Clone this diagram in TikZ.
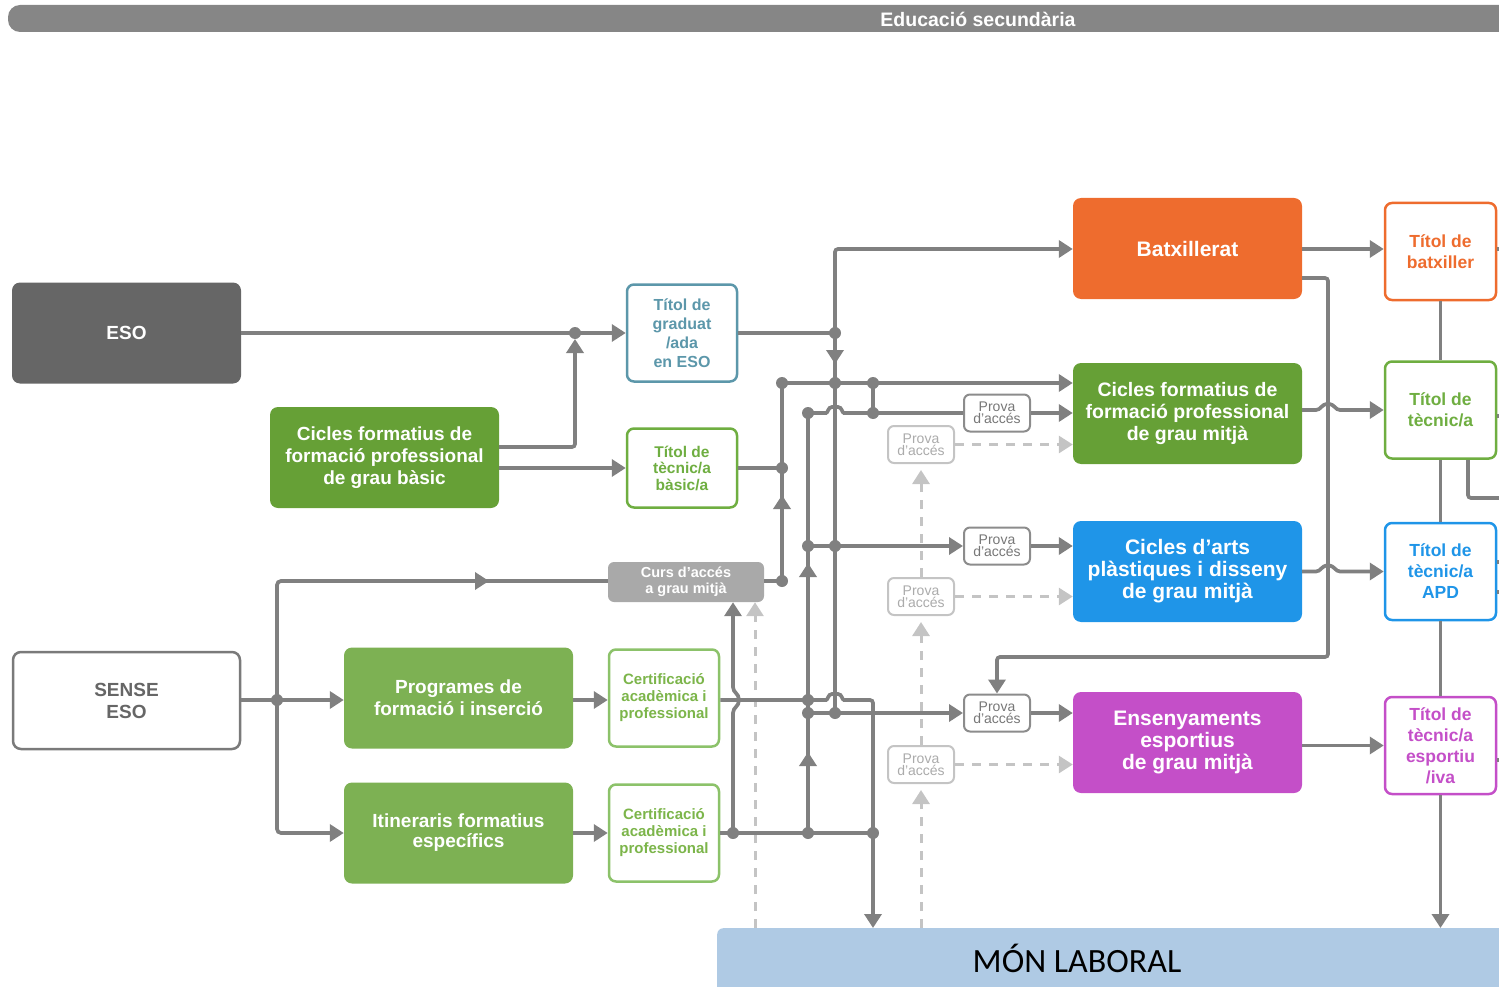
\documentclass[tikz,border=0pt]{standalone}
\usepackage{fontspec}
\setmainfont{Liberation Sans}
\newfontfamily\calib{Carlito}
\usetikzlibrary{arrows.meta,calc}
\definecolor{lg}{HTML}{808080}
\definecolor{dg}{HTML}{C4C4C4}
\definecolor{barg}{HTML}{868686}
\definecolor{esog}{HTML}{666666}
\definecolor{fpg}{HTML}{66A036}
\definecolor{pg}{HTML}{7DB153}
\definecolor{certg}{HTML}{8CC26A}
\definecolor{certt}{HTML}{7CB54A}
\definecolor{tgg}{HTML}{5C97AA}
\definecolor{tecg}{HTML}{6FAE41}
\definecolor{orng}{HTML}{EE6C2E}
\definecolor{blu}{HTML}{1F95E8}
\definecolor{mag}{HTML}{C44FC8}
\definecolor{cursg}{HTML}{A9A9A9}
\definecolor{provd}{HTML}{8C8C8C}
\definecolor{provdt}{HTML}{777777}
\definecolor{provl}{HTML}{C4C4C4}
\definecolor{provlt}{HTML}{ABABAB}
\definecolor{monb}{HTML}{AFCAE4}
\definecolor{sensg}{HTML}{7A7A7A}
\definecolor{senst}{HTML}{666666}
\begin{document}
\begin{tikzpicture}[x=1pt,y=-1pt,
  ln/.style={draw=lg, line width=3.7pt},
  arr/.style={ln, -{Triangle[width=17pt,length=14pt]}},
  dsh/.style={draw=dg, line width=3pt, dash pattern=on 9pt off 8pt},
  darr/.style={dsh, -{Triangle[width=17pt,length=14pt]}},
  bigbox/.style={rounded corners=8pt, minimum width=229pt, minimum height=101pt, inner sep=0pt, align=center, text=white, font=\bfseries\fontsize{19}{22}\selectfont},
  tbox/.style={draw, line width=2.5pt, fill=white, rounded corners=7pt, minimum width=110pt, minimum height=97pt, inner sep=0pt, align=center, font=\bfseries\fontsize{16}{19}\selectfont},
  rtbox/.style={draw, line width=2.5pt, fill=white, rounded corners=7pt, minimum width=111pt, minimum height=97pt, inner sep=0pt, align=center, font=\bfseries\fontsize{17.5}{21}\selectfont},
  provbox/.style={draw=provd, text=provdt, line width=2pt, fill=white, rounded corners=6pt, minimum width=66pt, minimum height=37pt, inner sep=0pt, align=center, font=\fontsize{14}{12}\selectfont},
  lprovbox/.style={provbox, draw=provl, text=provlt},
  dot/.style={fill=lg}
]
\useasboundingbox (0,0) rectangle (1499,987);

% top bar
\fill[barg, rounded corners=12pt] (8,5) rectangle (1540,32);
\node[text=white, font=\bfseries\fontsize{19.5}{20}\selectfont] (toptxt) at (978,19) {Educació secundària};

% bottom bar
\node[fill=monb, rounded corners=6pt, minimum width=820pt, minimum height=70pt, anchor=north west, inner sep=0pt] (mon) at (717,928) {};
\node[font=\calib\fontsize{34}{36}\selectfont, text=black] (montxt) at (1077,958) {MÓN LABORAL};

% left boxes
\node[bigbox, fill=esog] (eso) at (126.5,333) {ESO};
\node[bigbox, fill=fpg] (bas) at (384.5,457.5) {Cicles formatius de\\formació professional\\de grau bàsic};
\node[bigbox, fill=white, draw=sensg, line width=2.5pt, text=senst, minimum width=227pt, minimum height=97pt] (sense) at (126.5,700.5) {SENSE\\ESO};
\node[bigbox, fill=pg] (prog) at (458.5,698) {Programes de\\formació i inserció};
\node[bigbox, fill=pg, font=\bfseries\fontsize{19}{20}\selectfont] (itin) at (458.5,833) {Itineraris formatius\\específics};

% middle boxes
\node[tbox, draw=tgg, text=tgg] (tgrad) at (682,333) {Títol de\\graduat\\/ada\\en ESO};
\node[tbox, draw=tecg, text=tecg, minimum height=79pt, font=\bfseries\fontsize{15.5}{16.5}\selectfont] (tbas) at (682,468) {Títol de\\tècnic/a\\bàsic/a};
\node[fill=cursg, rounded corners=6pt, minimum width=156pt, minimum height=40pt, inner sep=0pt, align=center, text=white, font=\bfseries\fontsize{14.5}{16}\selectfont] (curs) at (686,582) {Curs d'accés\\a grau mitjà};
\node[tbox, draw=certg, text=certt, font=\bfseries\fontsize{15}{17}\selectfont] (cert1) at (664,698) {Certificació\\acadèmica i\\professional};
\node[tbox, draw=certg, text=certt, font=\bfseries\fontsize{15}{17}\selectfont] (cert2) at (664,833) {Certificació\\acadèmica i\\professional};

% right big boxes
\node[bigbox, fill=orng, font=\bfseries\fontsize{21}{23}\selectfont] (batx) at (1187.5,248.5) {Batxillerat};
\node[bigbox, fill=fpg, font=\bfseries\fontsize{19.5}{22}\selectfont] (cfgm) at (1187.5,413.5) {Cicles formatius de\\formació professional\\de grau mitjà};
\node[bigbox, fill=blu, font=\bfseries\fontsize{21}{22}\selectfont] (arts) at (1187.5,571.5) {Cicles d'arts\\plàstiques i disseny\\de grau mitjà};
\node[bigbox, fill=mag, font=\bfseries\fontsize{21}{22}\selectfont] (esp) at (1187.5,742.5) {Ensenyaments\\esportius\\de grau mitjà};

% right titles
\node[rtbox, draw=orng, text=orng] (tbatx) at (1440.5,251.5) {Títol de\\batxiller};
\node[rtbox, draw=tecg, text=tecg] (ttec) at (1440.5,410) {Títol de\\tècnic/a};
\node[rtbox, draw=blu, text=blu] (tapd) at (1440.5,571.5) {Títol de\\tècnic/a\\APD};
\node[rtbox, draw=mag, text=mag] (tesp) at (1440.5,745.5) {Títol de\\tècnic/a\\esportiu\\/iva};

% prova boxes
\node[provbox] (p1) at (997,413) {Prova\\d'accés};
\node[provbox] (p2) at (997,546) {Prova\\d'accés};
\node[provbox] (p3) at (997,713) {Prova\\d'accés};
\node[lprovbox] (l1) at (921,444.5) {Prova\\d'accés};
\node[lprovbox] (l2) at (921,596.5) {Prova\\d'accés};
\node[lprovbox] (l3) at (921,764.5) {Prova\\d'accés};

% junctions
\coordinate (jA) at (575,333);
\coordinate (jA2) at (575,339);
\coordinate (jB) at (835,333);
\coordinate (jC) at (835,249);
\coordinate (jD) at (782,383);
\coordinate (jE) at (835,383);
\coordinate (jF) at (873,383);
\coordinate (jG) at (808,413);
\coordinate (jH) at (873,413);
\coordinate (jI) at (782,468);
\coordinate (jJ) at (782,581);
\coordinate (jK) at (808,546);
\coordinate (jL) at (835,546);
\coordinate (jM) at (808,700);
\coordinate (jN) at (873,700);
\coordinate (jO) at (808,713);
\coordinate (jP) at (835,713);
\coordinate (jQ) at (733,833);
\coordinate (jR) at (808,833);
\coordinate (jS) at (873,833);
\coordinate (jT) at (277,700);
\coordinate (jU) at (277,581);
\coordinate (jV) at (277,833);
\coordinate (jW) at (1328,278);
\coordinate (jX) at (1328,657);

% dashed connectors
\draw[darr] (mon.north -| 755,0) -- (curs.south -| 755,0);
\draw[darr, shorten >=6pt] (mon.north -| l3) -- (l3.south);
\draw[darr, shorten >=6pt] (l3.north) -- (l2.south);
\draw[darr, shorten >=6pt] (l2.north) -- (l1.south);
\draw[darr] (l1.east) -- (cfgm.west |- l1);
\draw[darr] (l2.east) -- (arts.west |- l2);
\draw[darr] (l3.east) -- (esp.west |- l3);

% ESO side
\draw[arr] (eso.east) -- (tgrad.west);
\draw[arr, rounded corners=3pt] (bas.east |- 0,447) -| (jA2);
\draw[arr] (bas.east |- tbas) -- (tbas.west);
\draw[ln] (tgrad.east) -- (jB);
\draw[arr, rounded corners=3pt] (jP) -- (jC) -- (batx.west |- jC);
\draw[arr] (835,343) -- (835,364);

% curs / x=782
\draw[ln] (tbas.east) -- (jI);
\draw[arr, rounded corners=3pt] (curs.east |- jJ) -- (jJ) -- (jD) -- (cfgm.west |- jD);
\draw[arr] (782,514) -- (782,495);

% x=808 and y=413
\draw[ln, rounded corners=3pt] (jR) -- (jG) -- (823,413) .. controls (828,413) and (828,407) .. (835,407) .. controls (842,407) and (842,413) .. (847,413) -- (p1.west |- jG);
\draw[arr] (p1.east) -- (cfgm.west |- p1);
\draw[ln] (jF) -- (jH);
\draw[arr] (808,582) -- (808,563);
\draw[arr] (808,771) -- (808,752);

% y=546
\draw[arr] (jK) -- (p2.west);
\draw[arr] (p2.east) -- (arts.west |- p2);

% cert1 line y=700
\draw[arr, rounded corners=3pt] (cert1.east |- jM) -- (jM) -- (823,700) .. controls (828,700) and (828,694) .. (835,694) .. controls (842,694) and (842,700) .. (847,700) -- (jN) -- (mon.north -| jN);

% y=713
\draw[arr] (jO) -- (p3.west);
\draw[arr] (p3.east) -- (esp.west |- p3);

% cert2 line y=833 and x=733
\draw[ln] (cert2.east) -- (jS);
\draw[arr] (jQ) -- (733,713) .. controls (733,707) and (739,707) .. (739,700) .. controls (739,693) and (733,693) .. (733,687) -- (curs.south -| jQ);

% SENSE side
\draw[ln] (sense.east |- jT) -- (jT);
\draw[arr] (jT) -- (prog.west |- jT);
\draw[ln, rounded corners=4pt] (curs.west |- jU) -| (jT);
\draw[arr, rounded corners=4pt] (jT) |- (itin.west);
\draw[arr] (468,581) -- (489,581);
\draw[arr] (prog.east |- jT) -- (cert1.west |- jT);
\draw[arr] (itin.east) -- (cert2.west);

% right side
\draw[arr] (batx.east |- 0,249) -- (tbatx.west |- 0,249);
\draw[arr, rounded corners=3pt] (batx.east |- jW) -- (jW) -- (jX) -- (jX -| p3) -- (p3.north);
\draw[arr] (cfgm.east |- ttec) -- (1316,410) .. controls (1321,410) and (1321,404) .. (1328,404) .. controls (1335,404) and (1335,410) .. (1340,410) -- (ttec.west);
\draw[arr] (arts.east) -- (1316,571.5) .. controls (1321,571.5) and (1321,565.5) .. (1328,565.5) .. controls (1335,565.5) and (1335,571.5) .. (1340,571.5) -- (tapd.west);
\draw[arr] (esp.east |- tesp) -- (tesp.west);
\draw[ln] (tbatx.south) -- (ttec.north);
\draw[ln] (ttec.south) -- (tapd.north);
\draw[ln] (tapd.south) -- (tesp.north);
\draw[arr] (tesp.south) -- (mon.north -| tesp);
\draw[ln, rounded corners=3pt] (ttec.south -| 1468,0) |- (1510,498);
\draw[ln] (tbatx.east |- 0,249) -- (1510,249);
\draw[ln] (ttec.east |- 0,416) -- (1510,416);
\draw[ln] (tapd.east |- 0,562) -- (1510,562);
\draw[ln] (tapd.east |- 0,592) -- (1510,592);
\draw[ln] (tesp.east |- 0,760) -- (1510,760);

% dots
\foreach \p in {jA,jB,jD,jE,jF,jG,jH,jI,jJ,jK,jL,jM,jO,jP,jQ,jR,jS,jT}
  \fill[dot] (\p) circle (6pt);
\end{tikzpicture}
\end{document}
